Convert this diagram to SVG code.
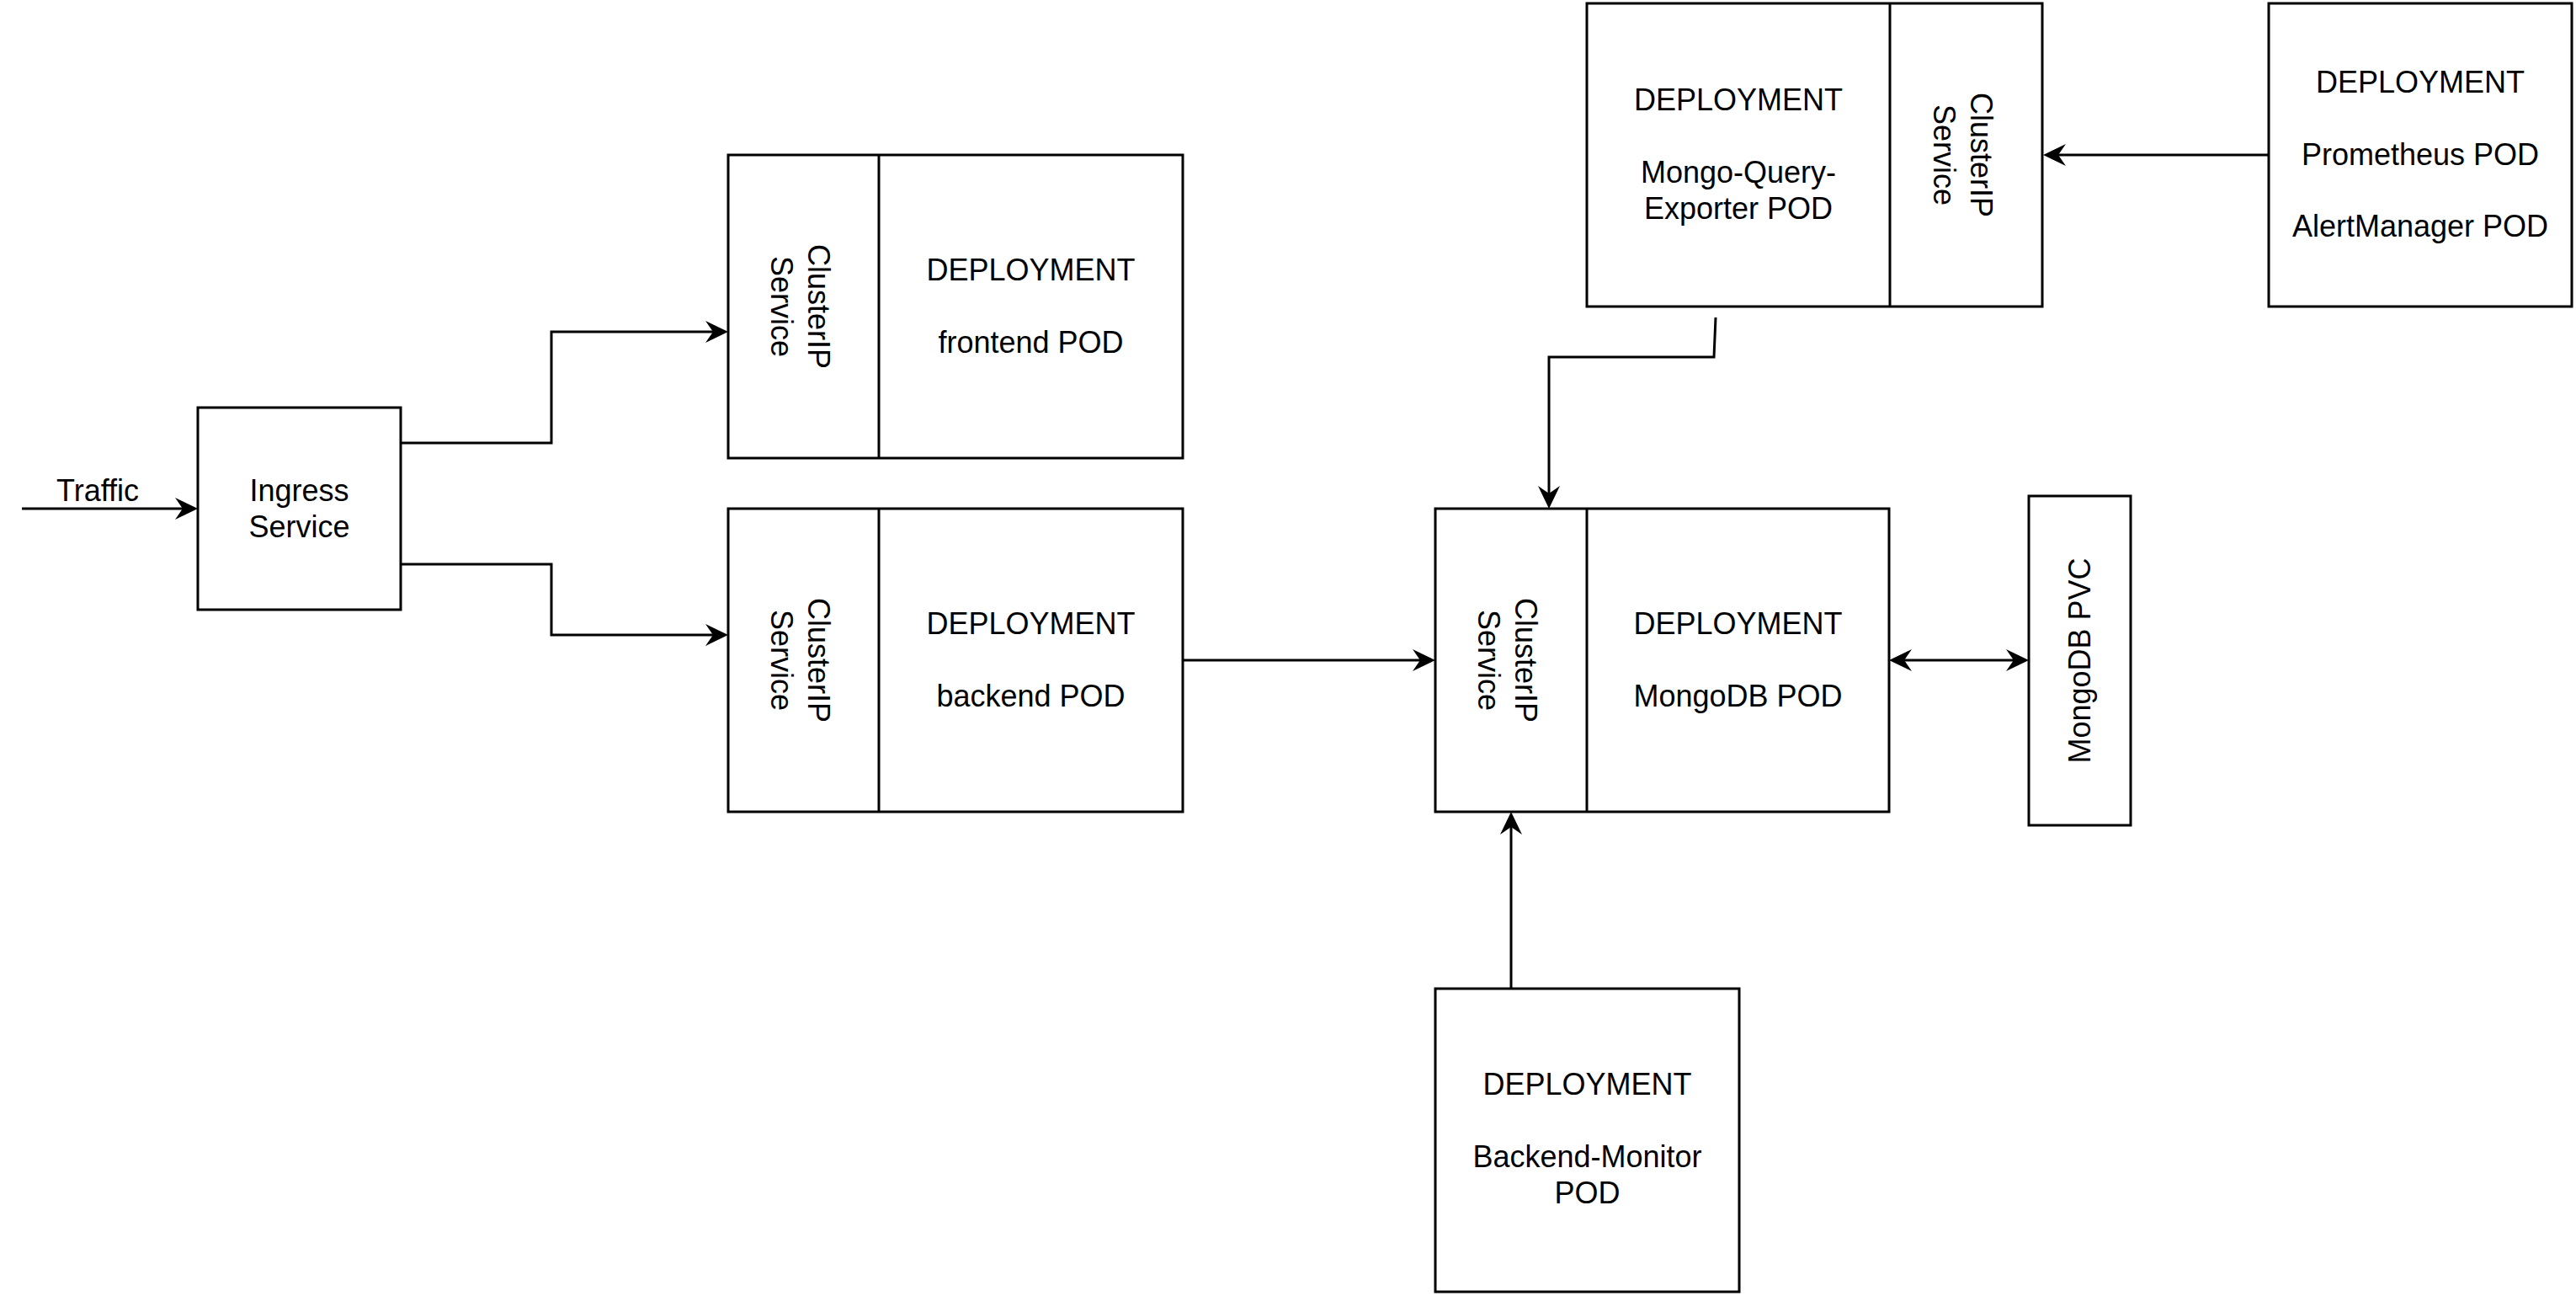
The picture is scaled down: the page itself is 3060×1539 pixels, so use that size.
<svg xmlns="http://www.w3.org/2000/svg" width="3060" height="1539" viewBox="0 0 3060 1539">
<style>
.box{fill:#fff;stroke:#000;stroke-width:3}
.div{stroke:#000;stroke-width:3;fill:none}
.edge{fill:none;stroke:#000;stroke-width:3}
text{font-family:"Liberation Sans",Arial,Helvetica,sans-serif;font-size:36px;fill:#000;text-anchor:middle}
</style>
<defs>
<marker id="arr" markerUnits="userSpaceOnUse" viewBox="0 0 30 30" markerWidth="30" markerHeight="30" refX="18" refY="15" orient="auto-start-reverse">
<path d="M28,15 L1,2 L10,15 L1,28 Z" fill="#000"/>
</marker>
</defs>
<rect width="3060" height="1539" fill="#fff"/>
<g id="connectors">
<path class="edge" d="M26,604 H225" marker-end="url(#arr)"/>
<path class="edge" d="M476,526 H655 V394 H855" marker-end="url(#arr)"/>
<path class="edge" d="M476,670 H655 V754 H855" marker-end="url(#arr)"/>
<path class="edge" d="M1405,784 H1695" marker-end="url(#arr)"/>
<path class="edge" d="M2038,377 L2036,424 H1840 V594" marker-end="url(#arr)"/>
<path class="edge" d="M1795,1174 V974" marker-end="url(#arr)"/>
<path class="edge" d="M2695,184 H2437" marker-end="url(#arr)"/>
<path class="edge" d="M2254,784 H2400" marker-start="url(#arr)" marker-end="url(#arr)"/>
<text x="116" y="595">Traffic</text>
</g>
<g id="ingress">
<rect class="box" x="235" y="484" width="241" height="240"/>
<text x="355.5" y="595">Ingress</text>
<text x="355.5" y="638">Service</text>
</g>
<g id="frontend">
<rect class="box" x="865" y="184" width="540" height="360"/>
<line class="div" x1="1044" y1="184" x2="1044" y2="544"/>
<text transform="translate(954.5,364) rotate(90)"><tspan x="0" y="-5">ClusterIP</tspan><tspan x="0" y="39">Service</tspan></text>
<text x="1224.5" y="333">DEPLOYMENT</text>
<text x="1224.5" y="419">frontend POD</text>
</g>
<g id="backend">
<rect class="box" x="865" y="604" width="540" height="360"/>
<line class="div" x1="1044" y1="604" x2="1044" y2="964"/>
<text transform="translate(954.5,784) rotate(90)"><tspan x="0" y="-5">ClusterIP</tspan><tspan x="0" y="39">Service</tspan></text>
<text x="1224.5" y="753">DEPLOYMENT</text>
<text x="1224.5" y="839">backend POD</text>
</g>
<g id="mongodb">
<rect class="box" x="1705" y="604" width="539" height="360"/>
<line class="div" x1="1885" y1="604" x2="1885" y2="964"/>
<text transform="translate(1795,784) rotate(90)"><tspan x="0" y="-5">ClusterIP</tspan><tspan x="0" y="39">Service</tspan></text>
<text x="2064.5" y="753">DEPLOYMENT</text>
<text x="2064.5" y="839">MongoDB POD</text>
</g>
<g id="mongo-query-exporter">
<rect class="box" x="1885" y="4" width="541" height="360"/>
<line class="div" x1="2245" y1="4" x2="2245" y2="364"/>
<text transform="translate(2335.5,184) rotate(90)"><tspan x="0" y="-5">ClusterIP</tspan><tspan x="0" y="39">Service</tspan></text>
<text x="2065" y="131">DEPLOYMENT</text>
<text x="2065" y="217">Mongo-Query-</text>
<text x="2065" y="260">Exporter POD</text>
</g>
<g id="prometheus">
<rect class="box" x="2695" y="4" width="360" height="360"/>
<text x="2875" y="110">DEPLOYMENT</text>
<text x="2875" y="196">Prometheus POD</text>
<text x="2875" y="281">AlertManager POD</text>
</g>
<g id="mongodb-pvc">
<rect class="box" x="2410" y="589" width="121" height="391"/>
<text transform="translate(2470.5,784.5) rotate(-90)" x="0" y="12">MongoDB PVC</text>
</g>
<g id="backend-monitor">
<rect class="box" x="1705" y="1174" width="361" height="360"/>
<text x="1885.5" y="1300">DEPLOYMENT</text>
<text x="1885.5" y="1386">Backend-Monitor</text>
<text x="1885.5" y="1429">POD</text>
</g>
</svg>
